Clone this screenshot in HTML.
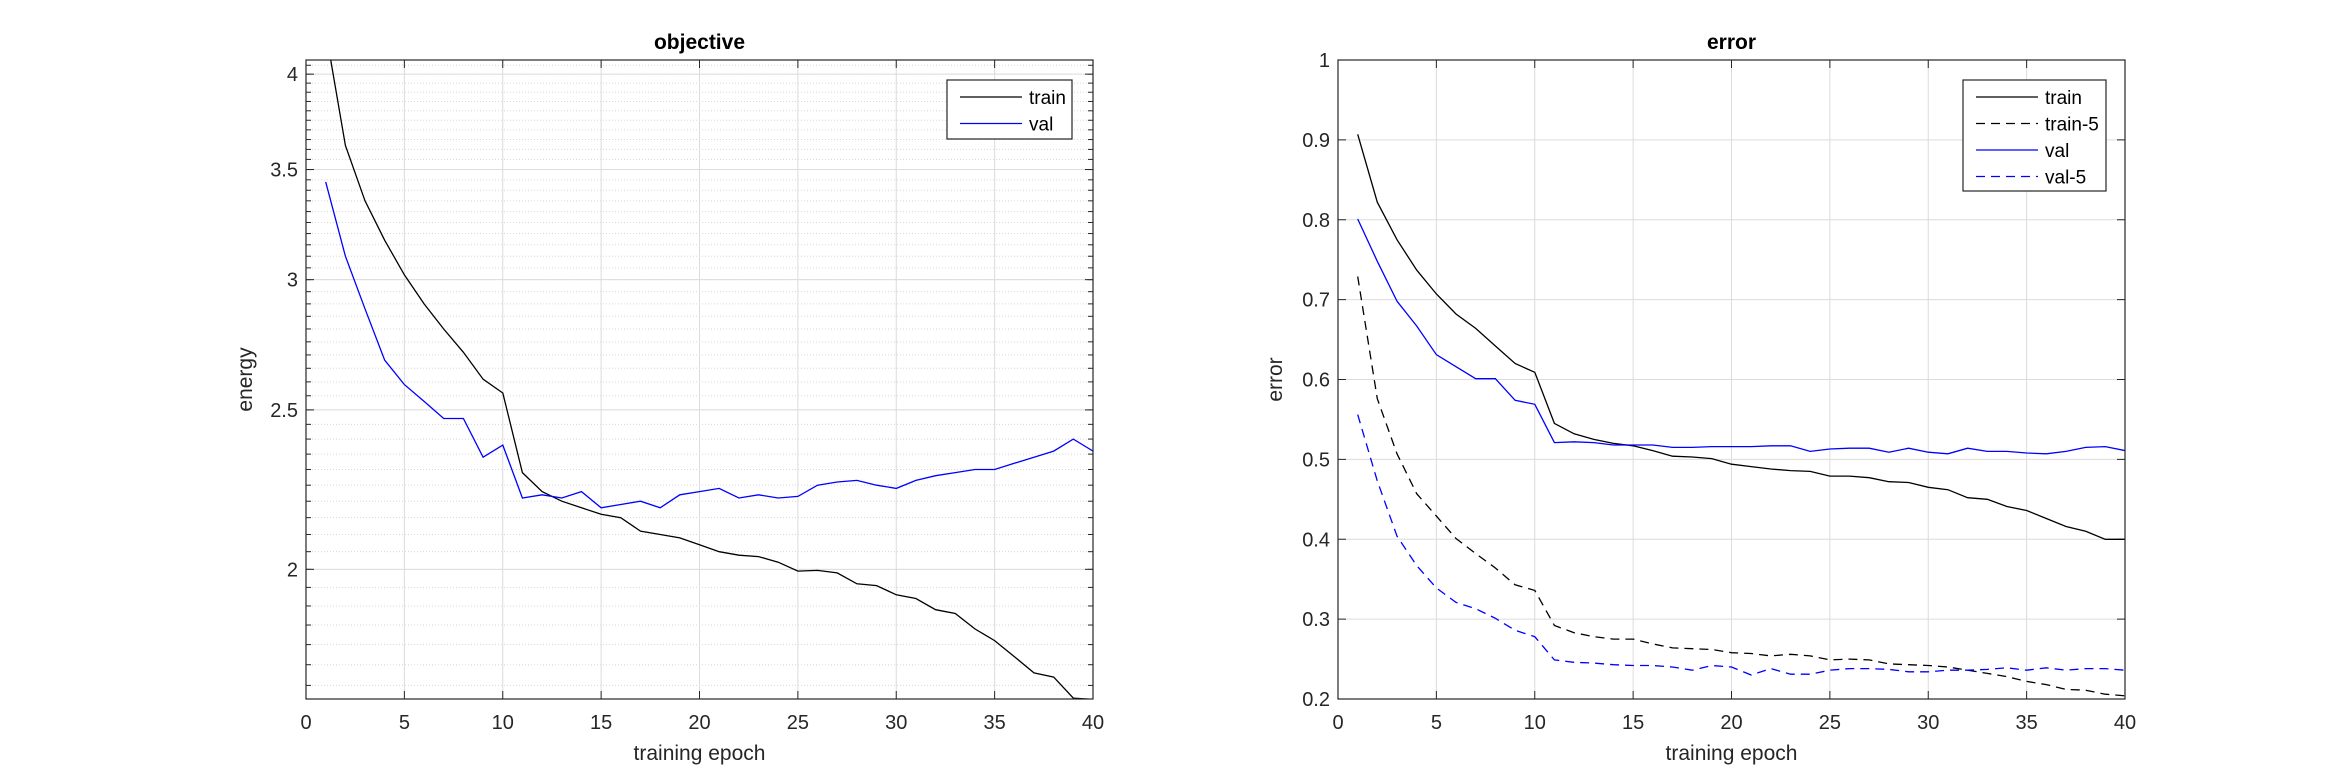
<!DOCTYPE html>
<html><head><meta charset="utf-8"><style>
html,body{margin:0;padding:0;background:#fff;}
svg{display:block;font-family:"Liberation Sans",Arial,sans-serif;}
</style></head><body>
<svg id="fig" width="2344" height="781" viewBox="0 0 2344 781"></svg>
<script>
const epochs = Array.from({length:40},(_,i)=>i+1);
const objTrain = [4.25,3.62,3.35,3.17,3.02,2.90,2.80,2.71,2.61,2.56,2.29,2.23,2.20,2.18,2.16,2.15,2.11,2.10,2.09,2.07,2.05,2.04,2.036,2.02,1.995,1.997,1.99,1.96,1.955,1.93,1.92,1.89,1.88,1.84,1.81,1.77,1.73,1.72,1.67,1.667];
const objVal = [3.44,3.10,2.88,2.68,2.59,2.53,2.47,2.47,2.34,2.38,2.21,2.22,2.21,2.23,2.18,2.19,2.20,2.18,2.22,2.23,2.24,2.21,2.22,2.21,2.215,2.25,2.26,2.265,2.25,2.24,2.265,2.28,2.29,2.30,2.30,2.32,2.34,2.36,2.40,2.36];
const errTrain = [.907,.822,.775,.737,.707,.682,.664,.642,.620,.609,.545,.532,.525,.520,.517,.511,.504,.503,.501,.494,.491,.488,.486,.485,.479,.479,.477,.472,.471,.465,.462,.452,.450,.441,.436,.426,.416,.410,.400,.400];
const errTrain5 = [.729,.576,.507,.457,.429,.401,.382,.364,.343,.336,.292,.283,.278,.275,.275,.269,.264,.263,.262,.258,.257,.254,.256,.254,.249,.250,.249,.244,.243,.242,.240,.236,.232,.228,.222,.218,.212,.211,.206,.204];
const errVal = [.801,.748,.698,.667,.631,.616,.601,.601,.574,.569,.521,.522,.521,.518,.518,.518,.515,.515,.516,.516,.516,.517,.517,.510,.513,.514,.514,.509,.514,.509,.507,.514,.510,.510,.508,.507,.510,.515,.516,.511];
const errVal5 = [.556,.473,.404,.367,.339,.321,.313,.301,.286,.278,.249,.246,.245,.243,.242,.242,.240,.236,.242,.240,.230,.238,.231,.231,.236,.238,.238,.237,.234,.234,.236,.236,.237,.239,.236,.239,.236,.238,.238,.236];
const xTicks = [0,5,10,15,20,25,30,35,40];
const objYTicks = [2,2.5,3,3.5,4];
const objYTickLabels = ["2","2.5","3","3.5","4"];
const errYTicks = [0.2,0.3,0.4,0.5,0.6,0.7,0.8,0.9,1];
const errYTickLabels = ["0.2","0.3","0.4","0.5","0.6","0.7","0.8","0.9","1"];

const NS="http://www.w3.org/2000/svg";
const svg=document.getElementById('fig');
function mk(tag,attrs,parent){const e=document.createElementNS(NS,tag);for(const k in attrs)e.setAttribute(k,attrs[k]);(parent||svg).appendChild(e);return e;}
const TOP=60,BOT=699;

function axes(cfg){
  const L=cfg.L,R=cfg.R;
  const g=mk('g',{});
  
  
  const xs=v=>L+(v-0)/40*(R-L);
  const ys=cfg.ys;
  mk('rect',{x:L,y:TOP,width:R-L,height:BOT-TOP,fill:'#fff'},g);
  if(cfg.minor){for(const v of cfg.minor){const y=ys(v);if(y<TOP||y>BOT)continue;
    mk('line',{x1:L,x2:R,y1:y,y2:y,stroke:'#d8d8d8','stroke-width':1,'stroke-dasharray':'1,2'},g);
    mk('line',{x1:L,x2:L+5,y1:y,y2:y,stroke:'#262626','stroke-width':1},g);
    mk('line',{x1:R-5,x2:R,y1:y,y2:y,stroke:'#262626','stroke-width':1},g);}}
  for(const v of xTicks){const x=xs(v);
    mk('line',{x1:x,x2:x,y1:TOP,y2:BOT,stroke:'#dcdcdc','stroke-width':1},g);
    mk('line',{x1:x,x2:x,y1:BOT,y2:BOT-8,stroke:'#262626'},g);
    mk('line',{x1:x,x2:x,y1:TOP,y2:TOP+8,stroke:'#262626'},g);
    const t=mk('text',{x:x,y:729,'text-anchor':'middle','font-size':20,fill:'#262626'},g);t.textContent=v;
    }
  cfg.yt.forEach((v,i)=>{const y=ys(v);
    mk('line',{x1:L,x2:R,y1:y,y2:y,stroke:'#dcdcdc','stroke-width':1},g);
    mk('line',{x1:L,x2:L+8,y1:y,y2:y,stroke:'#262626'},g);
    mk('line',{x1:R-8,x2:R,y1:y,y2:y,stroke:'#262626'},g);
    const t=mk('text',{x:L-8,y:y+7,'text-anchor':'end','font-size':20,fill:'#262626'},g);t.textContent=cfg.ytl[i];
    });
  const cid='clip'+cfg.name;
  const cp=mk('clipPath',{id:cid},g);mk('rect',{x:L,y:TOP,width:R-L,height:BOT-TOP},cp);
  const sg=mk('g',{'clip-path':'url(#'+cid+')'},g);
  cfg.series.forEach(s=>{
    const pts=s.data.map((v,i)=>xs(epochs[i]).toFixed(1)+','+ys(v).toFixed(1)).join(' ');
    const p=mk('polyline',{points:pts,fill:'none',stroke:s.color,'stroke-width':1.3},sg);
    if(s.dash)p.setAttribute('stroke-dasharray','9,6');
    
    
  });
  mk('rect',{x:L,y:TOP,width:R-L,height:BOT-TOP,fill:'none',stroke:'#262626','stroke-width':1.2},g);
  const tt=mk('text',{x:(L+R)/2,y:49,'text-anchor':'middle','font-size':21,'font-weight':'bold',fill:'#000'},g);tt.textContent=cfg.title;
  
  const xl=mk('text',{x:(L+R)/2,y:760,'text-anchor':'middle','font-size':21,fill:'#262626'},g);xl.textContent='training epoch';
  
  const yl=mk('text',{x:0,y:0,'text-anchor':'middle','font-size':21,fill:'#262626',transform:`translate(${cfg.ylx},${(TOP+BOT)/2}) rotate(-90)`},g);yl.textContent=cfg.ylabel;
  
  const lg=cfg.leg;
  const lgg=mk('g',{},g);
  
  mk('rect',{x:lg.x,y:lg.y,width:lg.w,height:lg.h,fill:'#fff',stroke:'#262626','stroke-width':1.2},lgg);
  cfg.series.forEach((s,i)=>{const y=lg.y+17+i*26.5;
    const l=mk('line',{x1:lg.x+13,x2:lg.x+75,y1:y,y2:y,stroke:s.color,'stroke-width':1.3},lgg);
    if(s.dash)l.setAttribute('stroke-dasharray','9,6');
    const t=mk('text',{x:lg.x+82,y:y+7,'font-size':19,fill:'#000'},lgg);t.textContent=s.label;
    });
}
const lnTop=Math.log(4.08),lnBot=Math.log(1.668);
const minorObj=[];for(let v=1.7;v<=4.1;v+=0.05)minorObj.push(+v.toFixed(2));
axes({name:'objective-chart',L:306,R:1093,title:'objective',ylabel:'energy',ylx:252,
  ys:v=>TOP+(lnTop-Math.log(v))/(lnTop-lnBot)*(BOT-TOP),yt:objYTicks,ytl:objYTickLabels,minor:minorObj,
  series:[{label:'train',data:objTrain,color:'#000'},{label:'val',data:objVal,color:'#0000ff'}],
  leg:{x:947,y:80,w:125,h:59}});
axes({name:'error-chart',L:1338,R:2125,title:'error',ylabel:'error',ylx:1282,
  ys:v=>TOP+(1-v)/0.8*(BOT-TOP),yt:errYTicks,ytl:errYTickLabels,
  series:[{label:'train',data:errTrain,color:'#000'},{label:'train-5',data:errTrain5,color:'#000',dash:true},
          {label:'val',data:errVal,color:'#0000ff'},{label:'val-5',data:errVal5,color:'#0000ff',dash:true}],
  leg:{x:1963,y:80,w:143,h:111}});
</script>
</body></html>
